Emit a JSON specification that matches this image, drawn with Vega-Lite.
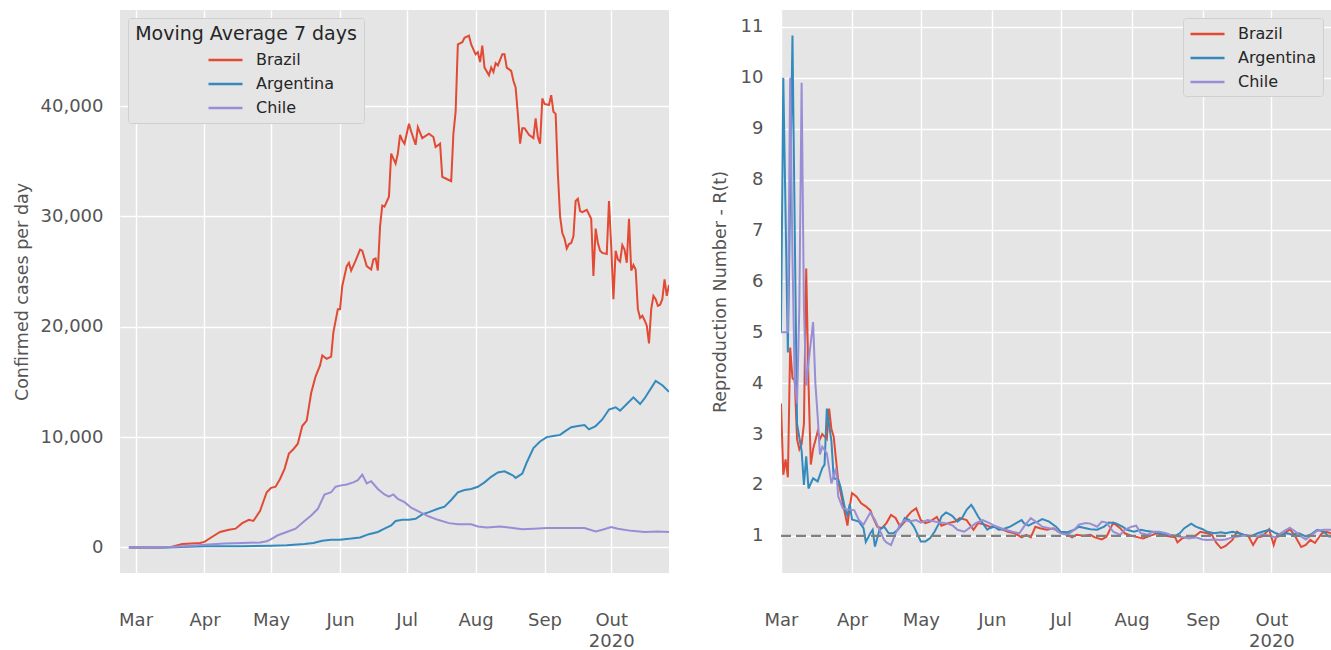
{
"$schema": "https://vega.github.io/schema/vega-lite/v6.json",
"background": "white",
"padding": {"left": 13, "top": 10, "right": 0, "bottom": 0},
"spacing": 42,
"config": {
  "font": "DejaVu Sans",
  "view": {"fill": "#E5E5E5", "stroke": null},
  "axis": {"domain": false, "ticks": false, "tickSize": 0, "grid": true, "gridColor": "#FFFFFF", "gridWidth": 1.4, "labelFont": "DejaVu Sans", "labelFontSize": 18, "labelColor": "#555555", "titleFont": "DejaVu Sans", "titleFontSize": 17.5, "titleColor": "#555555", "titleFontWeight": "normal"},
  "legend": {"labelFont": "DejaVu Sans", "titleFont": "DejaVu Sans"}
},
"resolve": {"scale": {"color": "independent"}, "legend": {"color": "independent"}},
"datasets": {
"cases": [
{"d":"2020-02-27","c":"Brazil","v":0},{"d":"2020-03-05","c":"Brazil","v":0},{"d":"2020-03-12","c":"Brazil","v":0},{"d":"2020-03-17","c":"Brazil","v":30},{"d":"2020-03-22","c":"Brazil","v":300},{"d":"2020-03-30","c":"Brazil","v":400},{"d":"2020-04-01","c":"Brazil","v":500},{"d":"2020-04-04","c":"Brazil","v":900},{"d":"2020-04-08","c":"Brazil","v":1400},{"d":"2020-04-12","c":"Brazil","v":1600},{"d":"2020-04-15","c":"Brazil","v":1700},{"d":"2020-04-18","c":"Brazil","v":2200},{"d":"2020-04-21","c":"Brazil","v":2500},{"d":"2020-04-23","c":"Brazil","v":2400},{"d":"2020-04-26","c":"Brazil","v":3300},{"d":"2020-04-29","c":"Brazil","v":5000},{"d":"2020-05-01","c":"Brazil","v":5400},{"d":"2020-05-03","c":"Brazil","v":5500},{"d":"2020-05-05","c":"Brazil","v":6200},{"d":"2020-05-07","c":"Brazil","v":7100},{"d":"2020-05-09","c":"Brazil","v":8500},{"d":"2020-05-11","c":"Brazil","v":8900},{"d":"2020-05-13","c":"Brazil","v":9400},{"d":"2020-05-15","c":"Brazil","v":11000},{"d":"2020-05-17","c":"Brazil","v":11500},{"d":"2020-05-19","c":"Brazil","v":14000},{"d":"2020-05-21","c":"Brazil","v":15500},{"d":"2020-05-23","c":"Brazil","v":16500},{"d":"2020-05-24","c":"Brazil","v":17400},{"d":"2020-05-26","c":"Brazil","v":17100},{"d":"2020-05-28","c":"Brazil","v":17300},{"d":"2020-05-29","c":"Brazil","v":19500},{"d":"2020-05-31","c":"Brazil","v":21600},{"d":"2020-06-01","c":"Brazil","v":21600},{"d":"2020-06-02","c":"Brazil","v":23700},{"d":"2020-06-04","c":"Brazil","v":25500},{"d":"2020-06-05","c":"Brazil","v":25800},{"d":"2020-06-06","c":"Brazil","v":25100},{"d":"2020-06-08","c":"Brazil","v":26000},{"d":"2020-06-10","c":"Brazil","v":27000},{"d":"2020-06-11","c":"Brazil","v":26900},{"d":"2020-06-13","c":"Brazil","v":25500},{"d":"2020-06-15","c":"Brazil","v":25200},{"d":"2020-06-16","c":"Brazil","v":26100},{"d":"2020-06-17","c":"Brazil","v":26200},{"d":"2020-06-18","c":"Brazil","v":25100},{"d":"2020-06-19","c":"Brazil","v":29100},{"d":"2020-06-20","c":"Brazil","v":31000},{"d":"2020-06-21","c":"Brazil","v":30900},{"d":"2020-06-23","c":"Brazil","v":31800},{"d":"2020-06-24","c":"Brazil","v":35700},{"d":"2020-06-26","c":"Brazil","v":34800},{"d":"2020-06-27","c":"Brazil","v":35700},{"d":"2020-06-28","c":"Brazil","v":37400},{"d":"2020-06-29","c":"Brazil","v":36900},{"d":"2020-06-30","c":"Brazil","v":36600},{"d":"2020-07-02","c":"Brazil","v":38400},{"d":"2020-07-03","c":"Brazil","v":37700},{"d":"2020-07-05","c":"Brazil","v":36500},{"d":"2020-07-06","c":"Brazil","v":38100},{"d":"2020-07-08","c":"Brazil","v":37100},{"d":"2020-07-11","c":"Brazil","v":37500},{"d":"2020-07-13","c":"Brazil","v":37200},{"d":"2020-07-14","c":"Brazil","v":36300},{"d":"2020-07-16","c":"Brazil","v":36600},{"d":"2020-07-17","c":"Brazil","v":33600},{"d":"2020-07-19","c":"Brazil","v":33400},{"d":"2020-07-21","c":"Brazil","v":33200},{"d":"2020-07-22","c":"Brazil","v":37500},{"d":"2020-07-23","c":"Brazil","v":39500},{"d":"2020-07-24","c":"Brazil","v":45600},{"d":"2020-07-26","c":"Brazil","v":45800},{"d":"2020-07-27","c":"Brazil","v":46200},{"d":"2020-07-29","c":"Brazil","v":46400},{"d":"2020-07-30","c":"Brazil","v":45600},{"d":"2020-08-01","c":"Brazil","v":44700},{"d":"2020-08-02","c":"Brazil","v":44900},{"d":"2020-08-03","c":"Brazil","v":44000},{"d":"2020-08-04","c":"Brazil","v":45500},{"d":"2020-08-05","c":"Brazil","v":43500},{"d":"2020-08-07","c":"Brazil","v":42800},{"d":"2020-08-08","c":"Brazil","v":43500},{"d":"2020-08-09","c":"Brazil","v":43100},{"d":"2020-08-10","c":"Brazil","v":43900},{"d":"2020-08-11","c":"Brazil","v":43700},{"d":"2020-08-13","c":"Brazil","v":44700},{"d":"2020-08-14","c":"Brazil","v":44700},{"d":"2020-08-15","c":"Brazil","v":43500},{"d":"2020-08-17","c":"Brazil","v":43200},{"d":"2020-08-18","c":"Brazil","v":42300},{"d":"2020-08-19","c":"Brazil","v":41700},{"d":"2020-08-20","c":"Brazil","v":39300},{"d":"2020-08-21","c":"Brazil","v":36600},{"d":"2020-08-22","c":"Brazil","v":38000},{"d":"2020-08-23","c":"Brazil","v":38000},{"d":"2020-08-25","c":"Brazil","v":37400},{"d":"2020-08-27","c":"Brazil","v":37100},{"d":"2020-08-28","c":"Brazil","v":38900},{"d":"2020-08-29","c":"Brazil","v":37200},{"d":"2020-08-30","c":"Brazil","v":36600},{"d":"2020-08-31","c":"Brazil","v":40700},{"d":"2020-09-01","c":"Brazil","v":40200},{"d":"2020-09-03","c":"Brazil","v":40100},{"d":"2020-09-04","c":"Brazil","v":41000},{"d":"2020-09-05","c":"Brazil","v":39500},{"d":"2020-09-06","c":"Brazil","v":39300},{"d":"2020-09-07","c":"Brazil","v":33900},{"d":"2020-09-08","c":"Brazil","v":30000},{"d":"2020-09-09","c":"Brazil","v":28500},{"d":"2020-09-10","c":"Brazil","v":28000},{"d":"2020-09-11","c":"Brazil","v":27100},{"d":"2020-09-12","c":"Brazil","v":27500},{"d":"2020-09-13","c":"Brazil","v":27600},{"d":"2020-09-14","c":"Brazil","v":28200},{"d":"2020-09-15","c":"Brazil","v":31400},{"d":"2020-09-16","c":"Brazil","v":31600},{"d":"2020-09-17","c":"Brazil","v":30500},{"d":"2020-09-18","c":"Brazil","v":30400},{"d":"2020-09-20","c":"Brazil","v":30600},{"d":"2020-09-21","c":"Brazil","v":30200},{"d":"2020-09-22","c":"Brazil","v":29800},{"d":"2020-09-23","c":"Brazil","v":24600},{"d":"2020-09-24","c":"Brazil","v":28900},{"d":"2020-09-25","c":"Brazil","v":27600},{"d":"2020-09-26","c":"Brazil","v":26900},{"d":"2020-09-27","c":"Brazil","v":26700},{"d":"2020-09-29","c":"Brazil","v":26600},{"d":"2020-09-30","c":"Brazil","v":31400},{"d":"2020-10-01","c":"Brazil","v":27300},{"d":"2020-10-02","c":"Brazil","v":22500},{"d":"2020-10-03","c":"Brazil","v":26900},{"d":"2020-10-04","c":"Brazil","v":26100},{"d":"2020-10-05","c":"Brazil","v":25900},{"d":"2020-10-06","c":"Brazil","v":27400},{"d":"2020-10-07","c":"Brazil","v":27000},{"d":"2020-10-08","c":"Brazil","v":25800},{"d":"2020-10-09","c":"Brazil","v":29800},{"d":"2020-10-10","c":"Brazil","v":25100},{"d":"2020-10-11","c":"Brazil","v":25600},{"d":"2020-10-12","c":"Brazil","v":25200},{"d":"2020-10-13","c":"Brazil","v":21600},{"d":"2020-10-14","c":"Brazil","v":20800},{"d":"2020-10-15","c":"Brazil","v":21000},{"d":"2020-10-16","c":"Brazil","v":20600},{"d":"2020-10-17","c":"Brazil","v":20100},{"d":"2020-10-18","c":"Brazil","v":18500},{"d":"2020-10-19","c":"Brazil","v":21600},{"d":"2020-10-20","c":"Brazil","v":22800},{"d":"2020-10-21","c":"Brazil","v":22500},{"d":"2020-10-22","c":"Brazil","v":21900},{"d":"2020-10-23","c":"Brazil","v":22000},{"d":"2020-10-24","c":"Brazil","v":22500},{"d":"2020-10-25","c":"Brazil","v":24300},{"d":"2020-10-26","c":"Brazil","v":22800},{"d":"2020-10-27","c":"Brazil","v":23800},
{"d":"2020-02-27","c":"Argentina","v":0},{"d":"2020-03-15","c":"Argentina","v":0},{"d":"2020-04-01","c":"Argentina","v":100},{"d":"2020-04-18","c":"Argentina","v":100},{"d":"2020-05-01","c":"Argentina","v":150},{"d":"2020-05-08","c":"Argentina","v":200},{"d":"2020-05-16","c":"Argentina","v":300},{"d":"2020-05-20","c":"Argentina","v":400},{"d":"2020-05-24","c":"Argentina","v":600},{"d":"2020-05-28","c":"Argentina","v":700},{"d":"2020-06-01","c":"Argentina","v":700},{"d":"2020-06-06","c":"Argentina","v":800},{"d":"2020-06-10","c":"Argentina","v":900},{"d":"2020-06-14","c":"Argentina","v":1200},{"d":"2020-06-18","c":"Argentina","v":1400},{"d":"2020-06-21","c":"Argentina","v":1700},{"d":"2020-06-24","c":"Argentina","v":2000},{"d":"2020-06-26","c":"Argentina","v":2400},{"d":"2020-06-29","c":"Argentina","v":2500},{"d":"2020-07-02","c":"Argentina","v":2500},{"d":"2020-07-05","c":"Argentina","v":2600},{"d":"2020-07-08","c":"Argentina","v":3000},{"d":"2020-07-11","c":"Argentina","v":3200},{"d":"2020-07-15","c":"Argentina","v":3500},{"d":"2020-07-18","c":"Argentina","v":3700},{"d":"2020-07-21","c":"Argentina","v":4300},{"d":"2020-07-24","c":"Argentina","v":5000},{"d":"2020-07-27","c":"Argentina","v":5200},{"d":"2020-07-30","c":"Argentina","v":5300},{"d":"2020-08-02","c":"Argentina","v":5500},{"d":"2020-08-05","c":"Argentina","v":5900},{"d":"2020-08-08","c":"Argentina","v":6400},{"d":"2020-08-11","c":"Argentina","v":6800},{"d":"2020-08-14","c":"Argentina","v":6900},{"d":"2020-08-16","c":"Argentina","v":6700},{"d":"2020-08-18","c":"Argentina","v":6500},{"d":"2020-08-19","c":"Argentina","v":6300},{"d":"2020-08-22","c":"Argentina","v":6700},{"d":"2020-08-24","c":"Argentina","v":7700},{"d":"2020-08-27","c":"Argentina","v":9000},{"d":"2020-08-30","c":"Argentina","v":9600},{"d":"2020-09-02","c":"Argentina","v":10000},{"d":"2020-09-05","c":"Argentina","v":10100},{"d":"2020-09-08","c":"Argentina","v":10200},{"d":"2020-09-10","c":"Argentina","v":10500},{"d":"2020-09-13","c":"Argentina","v":10900},{"d":"2020-09-16","c":"Argentina","v":11000},{"d":"2020-09-19","c":"Argentina","v":11100},{"d":"2020-09-21","c":"Argentina","v":10700},{"d":"2020-09-24","c":"Argentina","v":11000},{"d":"2020-09-27","c":"Argentina","v":11600},{"d":"2020-09-30","c":"Argentina","v":12500},{"d":"2020-10-03","c":"Argentina","v":12700},{"d":"2020-10-05","c":"Argentina","v":12400},{"d":"2020-10-08","c":"Argentina","v":13000},{"d":"2020-10-11","c":"Argentina","v":13600},{"d":"2020-10-14","c":"Argentina","v":13000},{"d":"2020-10-16","c":"Argentina","v":13500},{"d":"2020-10-21","c":"Argentina","v":15100},{"d":"2020-10-24","c":"Argentina","v":14700},{"d":"2020-10-27","c":"Argentina","v":14100},
{"d":"2020-02-27","c":"Chile","v":0},{"d":"2020-03-18","c":"Chile","v":50},{"d":"2020-03-26","c":"Chile","v":150},{"d":"2020-04-01","c":"Chile","v":250},{"d":"2020-04-10","c":"Chile","v":350},{"d":"2020-04-18","c":"Chile","v":400},{"d":"2020-04-26","c":"Chile","v":450},{"d":"2020-04-29","c":"Chile","v":550},{"d":"2020-05-01","c":"Chile","v":750},{"d":"2020-05-04","c":"Chile","v":1100},{"d":"2020-05-08","c":"Chile","v":1400},{"d":"2020-05-12","c":"Chile","v":1700},{"d":"2020-05-16","c":"Chile","v":2400},{"d":"2020-05-19","c":"Chile","v":2900},{"d":"2020-05-22","c":"Chile","v":3500},{"d":"2020-05-25","c":"Chile","v":4800},{"d":"2020-05-28","c":"Chile","v":5000},{"d":"2020-05-30","c":"Chile","v":5500},{"d":"2020-06-01","c":"Chile","v":5600},{"d":"2020-06-04","c":"Chile","v":5700},{"d":"2020-06-07","c":"Chile","v":5900},{"d":"2020-06-09","c":"Chile","v":6100},{"d":"2020-06-11","c":"Chile","v":6600},{"d":"2020-06-13","c":"Chile","v":5800},{"d":"2020-06-15","c":"Chile","v":6000},{"d":"2020-06-18","c":"Chile","v":5300},{"d":"2020-06-21","c":"Chile","v":4800},{"d":"2020-06-23","c":"Chile","v":4600},{"d":"2020-06-25","c":"Chile","v":4800},{"d":"2020-06-27","c":"Chile","v":4400},{"d":"2020-06-30","c":"Chile","v":4100},{"d":"2020-07-03","c":"Chile","v":3600},{"d":"2020-07-07","c":"Chile","v":3200},{"d":"2020-07-11","c":"Chile","v":2800},{"d":"2020-07-15","c":"Chile","v":2500},{"d":"2020-07-20","c":"Chile","v":2200},{"d":"2020-07-24","c":"Chile","v":2100},{"d":"2020-07-30","c":"Chile","v":2100},{"d":"2020-08-02","c":"Chile","v":1900},{"d":"2020-08-06","c":"Chile","v":1800},{"d":"2020-08-12","c":"Chile","v":1900},{"d":"2020-08-16","c":"Chile","v":1800},{"d":"2020-08-22","c":"Chile","v":1650},{"d":"2020-08-27","c":"Chile","v":1700},{"d":"2020-09-02","c":"Chile","v":1750},{"d":"2020-09-10","c":"Chile","v":1750},{"d":"2020-09-19","c":"Chile","v":1750},{"d":"2020-09-24","c":"Chile","v":1450},{"d":"2020-09-27","c":"Chile","v":1600},{"d":"2020-10-01","c":"Chile","v":1850},{"d":"2020-10-04","c":"Chile","v":1700},{"d":"2020-10-10","c":"Chile","v":1500},{"d":"2020-10-16","c":"Chile","v":1400},{"d":"2020-10-22","c":"Chile","v":1450},{"d":"2020-10-27","c":"Chile","v":1400}
],
"rt": [
{"d":"2020-03-01","c":"Brazil","r":3.6},{"d":"2020-03-02","c":"Brazil","r":2.2},{"d":"2020-03-03","c":"Brazil","r":2.5},{"d":"2020-03-04","c":"Brazil","r":2.15},{"d":"2020-03-05","c":"Brazil","r":4.7},{"d":"2020-03-06","c":"Brazil","r":4.1},{"d":"2020-03-07","c":"Brazil","r":4.05},{"d":"2020-03-08","c":"Brazil","r":2.9},{"d":"2020-03-09","c":"Brazil","r":2.7},{"d":"2020-03-10","c":"Brazil","r":2.8},{"d":"2020-03-11","c":"Brazil","r":3.2},{"d":"2020-03-12","c":"Brazil","r":6.25},{"d":"2020-03-13","c":"Brazil","r":4.0},{"d":"2020-03-14","c":"Brazil","r":2.4},{"d":"2020-03-15","c":"Brazil","r":2.7},{"d":"2020-03-17","c":"Brazil","r":3.05},{"d":"2020-03-18","c":"Brazil","r":2.9},{"d":"2020-03-19","c":"Brazil","r":3.0},{"d":"2020-03-20","c":"Brazil","r":2.95},{"d":"2020-03-21","c":"Brazil","r":2.9},{"d":"2020-03-22","c":"Brazil","r":3.5},{"d":"2020-03-23","c":"Brazil","r":3.1},{"d":"2020-03-24","c":"Brazil","r":2.95},{"d":"2020-03-25","c":"Brazil","r":2.5},{"d":"2020-03-26","c":"Brazil","r":2.07},{"d":"2020-03-28","c":"Brazil","r":1.64},{"d":"2020-03-30","c":"Brazil","r":1.2},{"d":"2020-03-31","c":"Brazil","r":1.58},{"d":"2020-04-01","c":"Brazil","r":1.84},{"d":"2020-04-03","c":"Brazil","r":1.77},{"d":"2020-04-05","c":"Brazil","r":1.64},{"d":"2020-04-07","c":"Brazil","r":1.58},{"d":"2020-04-09","c":"Brazil","r":1.5},{"d":"2020-04-10","c":"Brazil","r":1.38},{"d":"2020-04-12","c":"Brazil","r":1.18},{"d":"2020-04-14","c":"Brazil","r":1.15},{"d":"2020-04-16","c":"Brazil","r":1.25},{"d":"2020-04-18","c":"Brazil","r":1.41},{"d":"2020-04-20","c":"Brazil","r":1.35},{"d":"2020-04-22","c":"Brazil","r":1.18},{"d":"2020-04-24","c":"Brazil","r":1.28},{"d":"2020-04-25","c":"Brazil","r":1.38},{"d":"2020-04-27","c":"Brazil","r":1.48},{"d":"2020-04-29","c":"Brazil","r":1.54},{"d":"2020-05-01","c":"Brazil","r":1.31},{"d":"2020-05-03","c":"Brazil","r":1.25},{"d":"2020-05-05","c":"Brazil","r":1.28},{"d":"2020-05-08","c":"Brazil","r":1.37},{"d":"2020-05-10","c":"Brazil","r":1.2},{"d":"2020-05-13","c":"Brazil","r":1.25},{"d":"2020-05-16","c":"Brazil","r":1.28},{"d":"2020-05-18","c":"Brazil","r":1.35},{"d":"2020-05-21","c":"Brazil","r":1.31},{"d":"2020-05-24","c":"Brazil","r":1.12},{"d":"2020-05-26","c":"Brazil","r":1.25},{"d":"2020-05-29","c":"Brazil","r":1.22},{"d":"2020-05-31","c":"Brazil","r":1.18},{"d":"2020-06-03","c":"Brazil","r":1.18},{"d":"2020-06-06","c":"Brazil","r":1.12},{"d":"2020-06-08","c":"Brazil","r":1.08},{"d":"2020-06-11","c":"Brazil","r":1.05},{"d":"2020-06-14","c":"Brazil","r":0.97},{"d":"2020-06-16","c":"Brazil","r":1.02},{"d":"2020-06-18","c":"Brazil","r":0.97},{"d":"2020-06-20","c":"Brazil","r":1.18},{"d":"2020-06-22","c":"Brazil","r":1.15},{"d":"2020-06-25","c":"Brazil","r":1.12},{"d":"2020-06-28","c":"Brazil","r":1.15},{"d":"2020-06-30","c":"Brazil","r":1.08},{"d":"2020-07-03","c":"Brazil","r":1.05},{"d":"2020-07-06","c":"Brazil","r":0.97},{"d":"2020-07-08","c":"Brazil","r":1.02},{"d":"2020-07-11","c":"Brazil","r":1.0},{"d":"2020-07-14","c":"Brazil","r":1.02},{"d":"2020-07-16","c":"Brazil","r":0.97},{"d":"2020-07-19","c":"Brazil","r":0.93},{"d":"2020-07-21","c":"Brazil","r":0.98},{"d":"2020-07-24","c":"Brazil","r":1.26},{"d":"2020-07-27","c":"Brazil","r":1.15},{"d":"2020-07-29","c":"Brazil","r":1.05},{"d":"2020-08-01","c":"Brazil","r":1.0},{"d":"2020-08-04","c":"Brazil","r":0.97},{"d":"2020-08-06","c":"Brazil","r":0.95},{"d":"2020-08-09","c":"Brazil","r":1.0},{"d":"2020-08-12","c":"Brazil","r":1.05},{"d":"2020-08-14","c":"Brazil","r":1.02},{"d":"2020-08-17","c":"Brazil","r":0.99},{"d":"2020-08-20","c":"Brazil","r":0.97},{"d":"2020-08-21","c":"Brazil","r":0.87},{"d":"2020-08-23","c":"Brazil","r":0.95},{"d":"2020-08-26","c":"Brazil","r":0.99},{"d":"2020-08-28","c":"Brazil","r":0.97},{"d":"2020-08-31","c":"Brazil","r":1.08},{"d":"2020-09-03","c":"Brazil","r":1.05},{"d":"2020-09-05","c":"Brazil","r":1.02},{"d":"2020-09-07","c":"Brazil","r":0.86},{"d":"2020-09-09","c":"Brazil","r":0.76},{"d":"2020-09-11","c":"Brazil","r":0.8},{"d":"2020-09-14","c":"Brazil","r":0.92},{"d":"2020-09-16","c":"Brazil","r":1.08},{"d":"2020-09-18","c":"Brazil","r":1.02},{"d":"2020-09-21","c":"Brazil","r":0.99},{"d":"2020-09-23","c":"Brazil","r":0.82},{"d":"2020-09-25","c":"Brazil","r":0.97},{"d":"2020-09-27","c":"Brazil","r":0.99},{"d":"2020-09-30","c":"Brazil","r":1.13},{"d":"2020-10-02","c":"Brazil","r":0.82},{"d":"2020-10-03","c":"Brazil","r":0.97},{"d":"2020-10-06","c":"Brazil","r":1.02},{"d":"2020-10-09","c":"Brazil","r":1.13},{"d":"2020-10-11","c":"Brazil","r":1.02},{"d":"2020-10-14","c":"Brazil","r":0.78},{"d":"2020-10-16","c":"Brazil","r":0.82},{"d":"2020-10-18","c":"Brazil","r":0.92},{"d":"2020-10-20","c":"Brazil","r":0.86},{"d":"2020-10-23","c":"Brazil","r":1.05},{"d":"2020-10-25","c":"Brazil","r":1.08},{"d":"2020-10-27","c":"Brazil","r":1.05},
{"d":"2020-03-01","c":"Argentina","r":5.0},{"d":"2020-03-02","c":"Argentina","r":10.0},{"d":"2020-03-04","c":"Argentina","r":4.6},{"d":"2020-03-06","c":"Argentina","r":10.83},{"d":"2020-03-08","c":"Argentina","r":3.2},{"d":"2020-03-10","c":"Argentina","r":2.67},{"d":"2020-03-11","c":"Argentina","r":2.0},{"d":"2020-03-12","c":"Argentina","r":2.56},{"d":"2020-03-13","c":"Argentina","r":1.93},{"d":"2020-03-15","c":"Argentina","r":2.13},{"d":"2020-03-17","c":"Argentina","r":2.07},{"d":"2020-03-19","c":"Argentina","r":2.33},{"d":"2020-03-20","c":"Argentina","r":2.4},{"d":"2020-03-21","c":"Argentina","r":3.5},{"d":"2020-03-23","c":"Argentina","r":2.86},{"d":"2020-03-24","c":"Argentina","r":2.13},{"d":"2020-03-26","c":"Argentina","r":2.1},{"d":"2020-03-27","c":"Argentina","r":1.96},{"d":"2020-03-29","c":"Argentina","r":1.52},{"d":"2020-03-30","c":"Argentina","r":1.4},{"d":"2020-03-31","c":"Argentina","r":1.62},{"d":"2020-04-01","c":"Argentina","r":1.32},{"d":"2020-04-04","c":"Argentina","r":1.28},{"d":"2020-04-06","c":"Argentina","r":1.15},{"d":"2020-04-07","c":"Argentina","r":0.88},{"d":"2020-04-09","c":"Argentina","r":1.05},{"d":"2020-04-10","c":"Argentina","r":1.12},{"d":"2020-04-11","c":"Argentina","r":0.79},{"d":"2020-04-13","c":"Argentina","r":1.12},{"d":"2020-04-15","c":"Argentina","r":1.18},{"d":"2020-04-17","c":"Argentina","r":1.05},{"d":"2020-04-19","c":"Argentina","r":1.05},{"d":"2020-04-21","c":"Argentina","r":1.12},{"d":"2020-04-23","c":"Argentina","r":1.25},{"d":"2020-04-24","c":"Argentina","r":1.35},{"d":"2020-04-26","c":"Argentina","r":1.31},{"d":"2020-04-28","c":"Argentina","r":1.18},{"d":"2020-04-30","c":"Argentina","r":0.99},{"d":"2020-05-01","c":"Argentina","r":0.89},{"d":"2020-05-03","c":"Argentina","r":0.89},{"d":"2020-05-05","c":"Argentina","r":0.95},{"d":"2020-05-07","c":"Argentina","r":1.08},{"d":"2020-05-09","c":"Argentina","r":1.25},{"d":"2020-05-10","c":"Argentina","r":1.38},{"d":"2020-05-12","c":"Argentina","r":1.46},{"d":"2020-05-14","c":"Argentina","r":1.41},{"d":"2020-05-15","c":"Argentina","r":1.38},{"d":"2020-05-17","c":"Argentina","r":1.28},{"d":"2020-05-19","c":"Argentina","r":1.35},{"d":"2020-05-21","c":"Argentina","r":1.51},{"d":"2020-05-23","c":"Argentina","r":1.61},{"d":"2020-05-24","c":"Argentina","r":1.54},{"d":"2020-05-26","c":"Argentina","r":1.38},{"d":"2020-05-28","c":"Argentina","r":1.25},{"d":"2020-05-30","c":"Argentina","r":1.12},{"d":"2020-05-31","c":"Argentina","r":1.15},{"d":"2020-06-02","c":"Argentina","r":1.18},{"d":"2020-06-04","c":"Argentina","r":1.12},{"d":"2020-06-06","c":"Argentina","r":1.13},{"d":"2020-06-07","c":"Argentina","r":1.15},{"d":"2020-06-09","c":"Argentina","r":1.18},{"d":"2020-06-12","c":"Argentina","r":1.26},{"d":"2020-06-14","c":"Argentina","r":1.31},{"d":"2020-06-15","c":"Argentina","r":1.25},{"d":"2020-06-17","c":"Argentina","r":1.2},{"d":"2020-06-19","c":"Argentina","r":1.25},{"d":"2020-06-21","c":"Argentina","r":1.28},{"d":"2020-06-23","c":"Argentina","r":1.33},{"d":"2020-06-26","c":"Argentina","r":1.28},{"d":"2020-06-29","c":"Argentina","r":1.18},{"d":"2020-07-01","c":"Argentina","r":1.08},{"d":"2020-07-04","c":"Argentina","r":1.07},{"d":"2020-07-07","c":"Argentina","r":1.12},{"d":"2020-07-09","c":"Argentina","r":1.18},{"d":"2020-07-12","c":"Argentina","r":1.15},{"d":"2020-07-14","c":"Argentina","r":1.13},{"d":"2020-07-17","c":"Argentina","r":1.12},{"d":"2020-07-20","c":"Argentina","r":1.18},{"d":"2020-07-22","c":"Argentina","r":1.26},{"d":"2020-07-25","c":"Argentina","r":1.25},{"d":"2020-07-28","c":"Argentina","r":1.18},{"d":"2020-07-30","c":"Argentina","r":1.12},{"d":"2020-08-02","c":"Argentina","r":1.08},{"d":"2020-08-05","c":"Argentina","r":1.12},{"d":"2020-08-07","c":"Argentina","r":1.1},{"d":"2020-08-10","c":"Argentina","r":1.08},{"d":"2020-08-13","c":"Argentina","r":1.05},{"d":"2020-08-17","c":"Argentina","r":1.02},{"d":"2020-08-20","c":"Argentina","r":1.0},{"d":"2020-08-22","c":"Argentina","r":1.05},{"d":"2020-08-24","c":"Argentina","r":1.15},{"d":"2020-08-27","c":"Argentina","r":1.24},{"d":"2020-08-29","c":"Argentina","r":1.18},{"d":"2020-09-01","c":"Argentina","r":1.13},{"d":"2020-09-03","c":"Argentina","r":1.08},{"d":"2020-09-06","c":"Argentina","r":1.05},{"d":"2020-09-09","c":"Argentina","r":1.07},{"d":"2020-09-11","c":"Argentina","r":1.05},{"d":"2020-09-14","c":"Argentina","r":1.08},{"d":"2020-09-17","c":"Argentina","r":1.05},{"d":"2020-09-19","c":"Argentina","r":1.02},{"d":"2020-09-22","c":"Argentina","r":0.99},{"d":"2020-09-25","c":"Argentina","r":1.05},{"d":"2020-09-27","c":"Argentina","r":1.08},{"d":"2020-09-30","c":"Argentina","r":1.12},{"d":"2020-10-03","c":"Argentina","r":1.05},{"d":"2020-10-05","c":"Argentina","r":1.02},{"d":"2020-10-08","c":"Argentina","r":1.05},{"d":"2020-10-10","c":"Argentina","r":1.02},{"d":"2020-10-13","c":"Argentina","r":1.05},{"d":"2020-10-16","c":"Argentina","r":0.99},{"d":"2020-10-18","c":"Argentina","r":1.02},{"d":"2020-10-21","c":"Argentina","r":1.12},{"d":"2020-10-24","c":"Argentina","r":1.08},{"d":"2020-10-26","c":"Argentina","r":0.99},{"d":"2020-10-27","c":"Argentina","r":0.98},
{"d":"2020-03-01","c":"Chile","r":5.0},{"d":"2020-03-04","c":"Chile","r":5.0},{"d":"2020-03-05","c":"Chile","r":10.0},{"d":"2020-03-06","c":"Chile","r":6.5},{"d":"2020-03-07","c":"Chile","r":4.0},{"d":"2020-03-08","c":"Chile","r":3.6},{"d":"2020-03-09","c":"Chile","r":5.5},{"d":"2020-03-10","c":"Chile","r":9.9},{"d":"2020-03-11","c":"Chile","r":5.5},{"d":"2020-03-12","c":"Chile","r":3.95},{"d":"2020-03-13","c":"Chile","r":4.4},{"d":"2020-03-14","c":"Chile","r":4.8},{"d":"2020-03-15","c":"Chile","r":5.2},{"d":"2020-03-16","c":"Chile","r":4.0},{"d":"2020-03-17","c":"Chile","r":3.35},{"d":"2020-03-18","c":"Chile","r":2.6},{"d":"2020-03-19","c":"Chile","r":2.75},{"d":"2020-03-21","c":"Chile","r":2.62},{"d":"2020-03-23","c":"Chile","r":2.03},{"d":"2020-03-25","c":"Chile","r":2.33},{"d":"2020-03-26","c":"Chile","r":1.77},{"d":"2020-03-28","c":"Chile","r":1.54},{"d":"2020-03-30","c":"Chile","r":1.52},{"d":"2020-04-01","c":"Chile","r":1.51},{"d":"2020-04-02","c":"Chile","r":1.5},{"d":"2020-04-04","c":"Chile","r":1.31},{"d":"2020-04-06","c":"Chile","r":1.22},{"d":"2020-04-08","c":"Chile","r":1.38},{"d":"2020-04-09","c":"Chile","r":1.46},{"d":"2020-04-11","c":"Chile","r":1.31},{"d":"2020-04-13","c":"Chile","r":1.12},{"d":"2020-04-15","c":"Chile","r":0.92},{"d":"2020-04-16","c":"Chile","r":0.87},{"d":"2020-04-18","c":"Chile","r":0.82},{"d":"2020-04-20","c":"Chile","r":1.05},{"d":"2020-04-22","c":"Chile","r":1.22},{"d":"2020-04-24","c":"Chile","r":1.31},{"d":"2020-04-26","c":"Chile","r":1.28},{"d":"2020-04-29","c":"Chile","r":1.31},{"d":"2020-05-01","c":"Chile","r":1.26},{"d":"2020-05-04","c":"Chile","r":1.31},{"d":"2020-05-07","c":"Chile","r":1.28},{"d":"2020-05-09","c":"Chile","r":1.26},{"d":"2020-05-12","c":"Chile","r":1.25},{"d":"2020-05-15","c":"Chile","r":1.2},{"d":"2020-05-17","c":"Chile","r":1.12},{"d":"2020-05-20","c":"Chile","r":1.08},{"d":"2020-05-23","c":"Chile","r":1.18},{"d":"2020-05-25","c":"Chile","r":1.25},{"d":"2020-05-28","c":"Chile","r":1.31},{"d":"2020-05-31","c":"Chile","r":1.25},{"d":"2020-06-02","c":"Chile","r":1.2},{"d":"2020-06-05","c":"Chile","r":1.15},{"d":"2020-06-07","c":"Chile","r":1.12},{"d":"2020-06-10","c":"Chile","r":1.08},{"d":"2020-06-13","c":"Chile","r":1.05},{"d":"2020-06-15","c":"Chile","r":1.18},{"d":"2020-06-18","c":"Chile","r":1.35},{"d":"2020-06-21","c":"Chile","r":1.25},{"d":"2020-06-23","c":"Chile","r":1.18},{"d":"2020-06-26","c":"Chile","r":1.15},{"d":"2020-06-29","c":"Chile","r":1.12},{"d":"2020-07-01","c":"Chile","r":1.05},{"d":"2020-07-04","c":"Chile","r":1.02},{"d":"2020-07-07","c":"Chile","r":1.12},{"d":"2020-07-09","c":"Chile","r":1.22},{"d":"2020-07-12","c":"Chile","r":1.25},{"d":"2020-07-14","c":"Chile","r":1.24},{"d":"2020-07-17","c":"Chile","r":1.18},{"d":"2020-07-19","c":"Chile","r":1.28},{"d":"2020-07-21","c":"Chile","r":1.26},{"d":"2020-07-24","c":"Chile","r":1.08},{"d":"2020-07-27","c":"Chile","r":1.02},{"d":"2020-07-29","c":"Chile","r":1.12},{"d":"2020-08-01","c":"Chile","r":1.18},{"d":"2020-08-03","c":"Chile","r":1.2},{"d":"2020-08-05","c":"Chile","r":1.05},{"d":"2020-08-08","c":"Chile","r":1.02},{"d":"2020-08-10","c":"Chile","r":1.08},{"d":"2020-08-13","c":"Chile","r":1.08},{"d":"2020-08-16","c":"Chile","r":1.05},{"d":"2020-08-19","c":"Chile","r":1.0},{"d":"2020-08-21","c":"Chile","r":0.99},{"d":"2020-08-24","c":"Chile","r":0.97},{"d":"2020-08-26","c":"Chile","r":0.95},{"d":"2020-08-29","c":"Chile","r":0.97},{"d":"2020-09-01","c":"Chile","r":0.93},{"d":"2020-09-03","c":"Chile","r":0.92},{"d":"2020-09-06","c":"Chile","r":0.93},{"d":"2020-09-09","c":"Chile","r":0.92},{"d":"2020-09-11","c":"Chile","r":0.93},{"d":"2020-09-14","c":"Chile","r":0.97},{"d":"2020-09-17","c":"Chile","r":0.99},{"d":"2020-09-19","c":"Chile","r":1.0},{"d":"2020-09-22","c":"Chile","r":1.0},{"d":"2020-09-25","c":"Chile","r":0.99},{"d":"2020-09-27","c":"Chile","r":1.03},{"d":"2020-09-30","c":"Chile","r":1.0},{"d":"2020-10-03","c":"Chile","r":0.97},{"d":"2020-10-05","c":"Chile","r":1.05},{"d":"2020-10-08","c":"Chile","r":1.13},{"d":"2020-10-09","c":"Chile","r":1.16},{"d":"2020-10-11","c":"Chile","r":1.1},{"d":"2020-10-14","c":"Chile","r":0.99},{"d":"2020-10-16","c":"Chile","r":0.93},{"d":"2020-10-18","c":"Chile","r":1.0},{"d":"2020-10-21","c":"Chile","r":1.1},{"d":"2020-10-24","c":"Chile","r":1.12},{"d":"2020-10-27","c":"Chile","r":1.12}
]
},
"hconcat": [
{
  "width": 549, "height": 563,
  "data": {"name": "cases"},
  "mark": {"type": "line", "strokeWidth": 2, "clip": true},
  "encoding": {
    "x": {"field": "d", "type": "temporal",
      "scale": {"type": "utc", "domain": [{"year": 2020, "month": 2, "date": 23, "utc": true}, {"year": 2020, "month": 10, "date": 27, "utc": true}]},
      "axis": {"title": null, "labelPadding": 38, "labelFlush": false, "labelOverlap": false, "labelLineHeight": 21,
        "values": [{"year": 2020, "month": 3, "date": 1, "utc": true}, {"year": 2020, "month": 4, "date": 1, "utc": true}, {"year": 2020, "month": 5, "date": 1, "utc": true}, {"year": 2020, "month": 6, "date": 1, "utc": true}, {"year": 2020, "month": 7, "date": 1, "utc": true}, {"year": 2020, "month": 8, "date": 1, "utc": true}, {"year": 2020, "month": 9, "date": 1, "utc": true}, {"year": 2020, "month": 10, "date": 1, "utc": true}],
        "labelExpr": "utcmonth(datum.value) == 9 ? ['Out', '2020'] : utcFormat(datum.value, '%b')"}},
    "y": {"field": "v", "type": "quantitative",
      "scale": {"domain": [-2320, 48720], "nice": false, "zero": false},
      "axis": {"title": "Confirmed cases per day", "values": [0, 10000, 20000, 30000, 40000], "format": ",.0f", "labelPadding": 17, "titlePadding": 9}},
    "color": {"field": "c", "type": "nominal",
      "scale": {"domain": ["Brazil", "Argentina", "Chile"], "range": ["#E24A33", "#348ABD", "#988ED5"]},
      "legend": {"title": "Moving Average 7 days", "orient": "top-left", "offset": 8, "padding": 7,
        "fillColor": "#E5E5E5", "strokeColor": "#D0D0D0", "cornerRadius": 3,
        "titleFontSize": 19, "titleColor": "#262626", "titleFontWeight": "normal", "titleAnchor": "middle", "titlePadding": 6, "titleLimit": 400,
        "labelFontSize": 16, "labelColor": "#262626", "labelOffset": 29,
        "symbolType": "M-1,0L3,0", "symbolSize": 289, "symbolStrokeWidth": 2.5, "symbolOffset": 49, "rowPadding": 6}}
  }
},
{
  "width": 550, "height": 563,
  "layer": [
    {
      "data": {"name": "rt"},
      "mark": {"type": "line", "strokeWidth": 2, "clip": true},
      "encoding": {
        "x": {"field": "d", "type": "temporal",
          "scale": {"type": "utc", "domain": [{"year": 2020, "month": 3, "date": 1, "utc": true}, {"year": 2020, "month": 10, "date": 27, "utc": true}]},
          "axis": {"title": null, "labelPadding": 38, "labelFlush": false, "labelOverlap": false, "labelLineHeight": 21,
            "values": [{"year": 2020, "month": 3, "date": 1, "utc": true}, {"year": 2020, "month": 4, "date": 1, "utc": true}, {"year": 2020, "month": 5, "date": 1, "utc": true}, {"year": 2020, "month": 6, "date": 1, "utc": true}, {"year": 2020, "month": 7, "date": 1, "utc": true}, {"year": 2020, "month": 8, "date": 1, "utc": true}, {"year": 2020, "month": 9, "date": 1, "utc": true}, {"year": 2020, "month": 10, "date": 1, "utc": true}],
            "labelExpr": "utcmonth(datum.value) == 9 ? ['Out', '2020'] : utcFormat(datum.value, '%b')"}},
        "y": {"field": "r", "type": "quantitative",
          "scale": {"domain": [0.27, 11.33], "nice": false, "zero": false},
          "axis": {"title": "Reproduction Number - R(t)", "values": [1, 2, 3, 4, 5, 6, 7, 8, 9, 10, 11], "labelPadding": 18, "titlePadding": 11}},
        "color": {"field": "c", "type": "nominal",
          "scale": {"domain": ["Brazil", "Argentina", "Chile"], "range": ["#E24A33", "#348ABD", "#988ED5"]},
          "legend": {"title": null, "orient": "top-right", "offset": 8, "padding": 6,
            "fillColor": "#E5E5E5", "strokeColor": "#D0D0D0", "cornerRadius": 3,
            "labelFontSize": 16, "labelColor": "#262626", "labelOffset": 29,
            "symbolType": "M-1,0L3,0", "symbolSize": 289, "symbolStrokeWidth": 2.5, "rowPadding": 6}}
      }
    },
    {
      "data": {"values": [{}]},
      "mark": {"type": "rule", "color": "#808080", "strokeWidth": 2.2, "strokeDash": [10, 5]},
      "encoding": {"y": {"datum": 1}}
    }
  ]
}
]
}
